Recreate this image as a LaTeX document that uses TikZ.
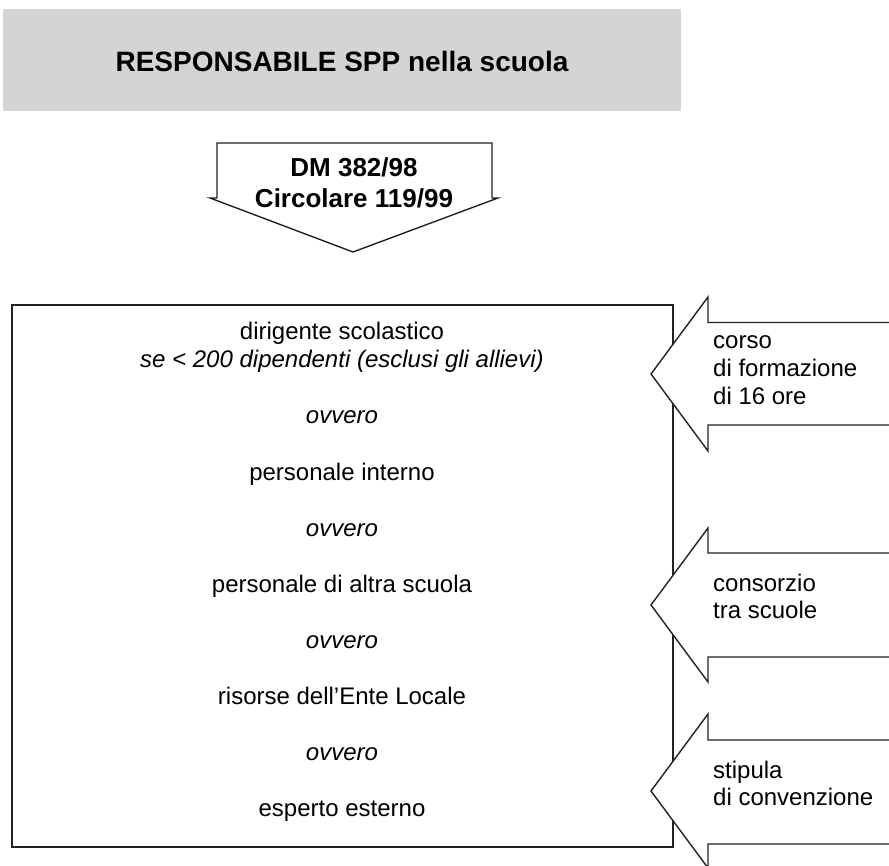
\documentclass[tikz,border=0pt]{standalone}
\usepackage{fontspec}
\setmainfont{Liberation Sans}
\definecolor{titlegray}{HTML}{D4D4D4}
\definecolor{inkline}{HTML}{222222}
\begin{document}
\begin{tikzpicture}[x=1pt,y=-1pt,
  outl/.style={draw=inkline, line width=1.4pt, line join=miter},
  titletext/.style={font=\fontsize{28}{32}\selectfont\bfseries, inner sep=0pt, anchor=base},
  lawtext/.style={font=\fontsize{26}{32}\selectfont\bfseries, inner sep=0pt, anchor=base},
  bodytext/.style={font=\fontsize{24}{28}\selectfont, inner sep=0pt, anchor=base},
  bodyital/.style={font=\fontsize{24}{28}\selectfont\itshape, inner sep=0pt, anchor=base},
  sidetext/.style={font=\fontsize{24}{27.6}\selectfont, inner sep=0pt, anchor=base west, align=left},
  sidearrow/.style={outl, fill=white}
]
\useasboundingbox (0,0) rectangle (889,866);
\clip (0,0) rectangle (889,866);

% title
\node[fill=titlegray, minimum width=678pt, minimum height=102pt, inner sep=0pt, outer sep=0pt] (titlebox) at (342,60) {};
\node[titletext] (title) at (342,72) {RESPONSABILE SPP nella scuola};

% down arrow
\draw[outl, fill=white] (217,143) -- (492,143) -- (492,198) -- (498,198) -- (353,252) -- (210,198) -- (217,198) -- cycle;
\node[lawtext] (law1) at (354,177) {DM 382/98};
\node[lawtext] (law2) at (354,208) {Circolare 119/99};

% main box
\node[outl, minimum width=661pt, minimum height=542pt, inner sep=0pt, outer sep=0pt] (mainbox) at (342.5,576) {};
\node[bodytext] (l1) at (342,340) {dirigente scolastico};
\node[bodyital] (l2) at (342,368) {se < 200 dipendenti (esclusi gli allievi)};
\node[bodyital] (l3) at (342,424) {ovvero};
\node[bodytext] (l4) at (342,480) {personale interno};
\node[bodyital] (l5) at (342,536) {ovvero};
\node[bodytext] (l6) at (342,592) {personale di altra scuola};
\node[bodyital] (l7) at (342,648) {ovvero};
\node[bodytext] (l8) at (342,704.3) {risorse dell’Ente Locale};
\node[bodyital] (l9) at (342,760.5) {ovvero};
\node[bodytext] (l10) at (342,816.7) {esperto esterno};

% side arrows
\draw[sidearrow] (651,374) -- (708,297) -- (708,322.5) -- (900,322.5) -- (900,425) -- (708,425) -- (708,451) -- cycle;
\node[sidetext] (a1) at (713,404.2) {corso\\di formazione\\di 16 ore};

\draw[sidearrow] (651,605) -- (708,528) -- (708,553) -- (900,553) -- (900,657) -- (708,657) -- (708,682) -- cycle;
\node[sidetext] (a2) at (713,618.6) {consorzio\\tra scuole};

\draw[sidearrow] (651,791) -- (708,714) -- (708,740) -- (900,740) -- (900,844) -- (708,844) -- (708,868) -- cycle;
\node[sidetext] (a3) at (713,805.6) {stipula\\di convenzione};
\end{tikzpicture}
\end{document}
